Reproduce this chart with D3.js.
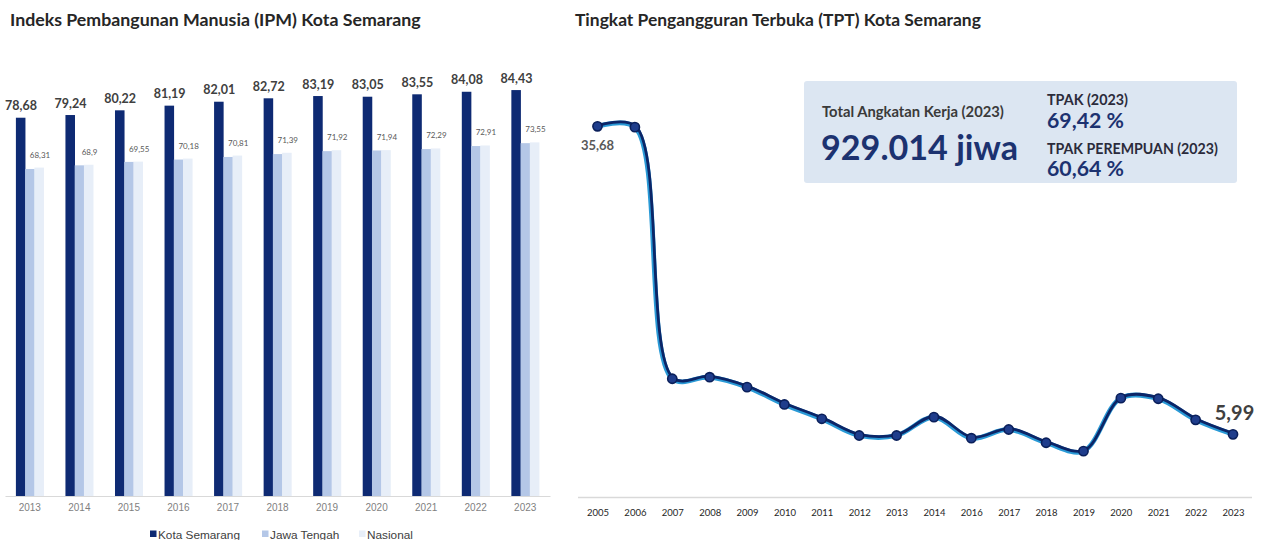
<!DOCTYPE html>
<html>
<head>
<meta charset="utf-8">
<script src="https://cdn.jsdelivr.net/npm/d3@7"></script>
<style>
  html, body { margin: 0; padding: 0; background: #ffffff; }
  svg { display: block; }
</style>
</head>
<body>
<svg id="chart" width="1264" height="540"></svg>
<script>
// ---------- DATA ----------
const ipmYears = ["2013","2014","2015","2016","2017","2018","2019","2020","2021","2022","2023"];
const ipmKota = [78.68, 79.24, 80.22, 81.19, 82.01, 82.72, 83.19, 83.05, 83.55, 84.08, 84.43];
const ipmJateng = [68.02, 68.78, 69.49, 69.98, 70.52, 71.12, 71.73, 71.87, 72.16, 72.79, 73.39];
const ipmNasional = [68.31, 68.9, 69.55, 70.18, 70.81, 71.39, 71.92, 71.94, 72.29, 72.91, 73.55];
const ipmSeries = ["Kota Semarang", "Jawa Tengah", "Nasional"];

const tptYears = ["2005","2006","2007","2008","2009","2010","2011","2012","2013","2014","2016","2017","2018","2019","2020","2021","2022","2023"];
const tptValues = [35.68, 35.6, 11.35, 11.5, 10.54, 8.87, 7.49, 5.88, 5.88, 7.65, 5.62, 6.46, 5.18, 4.37, 9.48, 9.42, 7.39, 5.99];

const titleLeft = "Indeks Pembangunan Manusia (IPM) Kota Semarang";
const titleRight = "Tingkat Pengangguran Terbuka (TPT) Kota Semarang";
const infoLabel = "Total Angkatan Kerja (2023)";
const infoValue = "929.014 jiwa";
const tpakLabel = "TPAK (2023)";
const tpakValue = "69,42 %";
const tpakPLabel = "TPAK PEREMPUAN (2023)";
const tpakPValue = "60,64 %";

// ---------- HELPERS ----------
const fmt = v => String(v).replace(".", ",");
function fit(sel, w) {
  const n = sel.node();
  const cur = n.getComputedTextLength();
  const fs = parseFloat(sel.attr("font-size"));
  sel.attr("font-size", (fs * w / cur).toFixed(2));
  return sel;
}

const svg = d3.select("#chart");
svg.append("rect").attr("width", 1264).attr("height", 540).attr("fill", "#ffffff");

const calibri = "Lato, 'Open Sans', sans-serif";
const arial = "'Liberation Sans', Arial, sans-serif";
const colKota = "#0e2a73", colJateng = "#b4c7e7", colNas = "#e7eef8";

// ---------- LEFT: IPM BAR CHART ----------
const L = svg.append("g");
fit(L.append("text").attr("x", 10).attr("y", 26).attr("font-family", calibri).attr("font-weight", 700)
  .attr("font-size", 15).attr("fill", "#262626").text(titleLeft), 411);

const x0 = d3.scaleBand().domain(ipmYears).range([5, 550]).padding(0);
const x1 = d3.scaleBand().domain(ipmSeries).range([0, x0.bandwidth() * 0.56]).padding(0);
const yL = d3.scaleLinear().domain([0, 90]).range([496, 63.3]);

const rows = ipmYears.map((yr, i) => ({ yr, vals: [ipmKota[i], ipmJateng[i], ipmNasional[i]] }));
const colors = [colKota, colJateng, colNas];
const gOff = (x0.bandwidth() - x1.range()[1]) / 2;

const groups = L.selectAll("g.grp").data(rows).enter().append("g")
  .attr("transform", d => `translate(${x0(d.yr) + gOff},0)`);
groups.selectAll("rect").data(d => d.vals.map((v, j) => ({ v, s: ipmSeries[j], j }))).enter().append("rect")
  .attr("x", d => x1(d.s))
  .attr("y", d => yL(d.v))
  .attr("width", x1.bandwidth() + 0.3)
  .attr("height", d => yL(0) - yL(d.v))
  .attr("fill", d => colors[d.j]);

// value labels
groups.append("text")
  .attr("x", x1(ipmSeries[0]) + x1.bandwidth() / 2 + 0.5)
  .attr("y", d => yL(d.vals[0]) - 7.5)
  .attr("text-anchor", "middle").attr("font-family", calibri).attr("font-weight", 700)
  .attr("font-size", 12.5).attr("fill", "#404040").text(d => fmt(d.vals[0]));
groups.append("text")
  .attr("x", x1(ipmSeries[2]) + x1.bandwidth() / 2 + 1)
  .attr("y", d => yL(d.vals[2]) - 10)
  .attr("text-anchor", "middle").attr("font-family", calibri)
  .attr("font-size", 8).attr("fill", "#595959").text(d => fmt(d.vals[2]));

// axis
const axL = L.append("g").attr("transform", "translate(0,496)")
  .call(d3.axisBottom(x0).tickSize(0).tickPadding(8));
axL.select(".domain").attr("stroke", "#d9d9d9").attr("stroke-width", 1.2);
axL.selectAll("text").attr("font-family", arial).attr("font-size", 10).attr("fill", "#7f7f7f");

// legend
const legX = [150, 262, 359];
const leg = L.selectAll("g.leg").data(ipmSeries).enter().append("g")
  .attr("transform", (d, i) => `translate(${legX[i]},0)`);
leg.append("rect").attr("x", 0).attr("y", 530.5).attr("width", 6.5).attr("height", 6.5)
  .attr("fill", (d, i) => colors[i]);
leg.append("text").attr("x", 8).attr("y", 538.5).attr("font-family", arial).attr("font-size", 11.8)
  .attr("fill", "#404040").text(d => d);

// ---------- RIGHT: TPT LINE CHART ----------
const R = svg.append("g");
fit(R.append("text").attr("x", 575).attr("y", 26).attr("font-family", calibri).attr("font-weight", 700)
  .attr("font-size", 15).attr("fill", "#262626").text(titleRight), 406);

const xR = d3.scalePoint().domain(tptYears).range([597.5, 1233]);
const yR = d3.scaleLinear().domain([0, 40]).range([496.5, 81.5]);

const axR = R.append("g").attr("transform", "translate(0,497)")
  .call(d3.axisBottom(xR).tickSize(0).tickPadding(12));
axR.select(".domain").attr("d", "M578,0.5H1252").attr("stroke", "#d9d9d9").attr("stroke-width", 1.5);
axR.selectAll("text").attr("font-family", calibri).attr("font-size", 9.5).attr("fill", "#262626");

// info box
R.append("rect").attr("x", 804).attr("y", 81).attr("width", 433).attr("height", 102).attr("rx", 3)
  .attr("fill", "#dce6f2");
fit(R.append("text").attr("x", 822).attr("y", 117).attr("font-family", calibri).attr("font-weight", 700)
  .attr("font-size", 13).attr("fill", "#3a3a3a").text(infoLabel), 182);
fit(R.append("text").attr("x", 821).attr("y", 160).attr("font-family", calibri).attr("font-weight", 700)
  .attr("font-size", 36).attr("fill", "#1c3270").text(infoValue), 197);
fit(R.append("text").attr("x", 1047).attr("y", 105).attr("font-family", calibri).attr("font-weight", 700)
  .attr("font-size", 12).attr("fill", "#2b2b3b").text(tpakLabel), 81);
fit(R.append("text").attr("x", 1047).attr("y", 128).attr("font-family", calibri).attr("font-weight", 700)
  .attr("font-size", 22).attr("fill", "#1c3270").text(tpakValue), 77);
fit(R.append("text").attr("x", 1047).attr("y", 154).attr("font-family", calibri).attr("font-weight", 700)
  .attr("font-size", 12).attr("fill", "#2b2b3b").text(tpakPLabel), 171);
fit(R.append("text").attr("x", 1047).attr("y", 175.5).attr("font-family", calibri).attr("font-weight", 700)
  .attr("font-size", 22).attr("fill", "#1c3270").text(tpakPValue), 77);

// line
const pts = tptYears.map((yr, i) => ({ yr, v: tptValues[i] }));
const line = d3.line().x(d => xR(d.yr)).y(d => yR(d.v)).curve(d3.curveCatmullRom.alpha(0.5));
R.append("path").datum(pts).attr("d", line).attr("fill", "none")
  .attr("stroke", "#2a9ad6").attr("stroke-width", 4.8).attr("stroke-linecap", "round");
R.append("path").datum(pts).attr("d", line).attr("fill", "none")
  .attr("transform", "translate(0.8,-0.9)")
  .attr("stroke", "#0c2567").attr("stroke-width", 2.8).attr("stroke-linecap", "round");

R.selectAll("circle.pt").data(pts).enter().append("circle")
  .attr("cx", d => xR(d.yr)).attr("cy", d => yR(d.v)).attr("r", 4.6)
  .attr("fill", "#1f3d8c").attr("stroke", "#0a1f5a").attr("stroke-width", 1.6);

// end labels
const first = pts[0], last = pts[pts.length - 1];
R.append("text").attr("x", xR(first.yr)).attr("y", yR(first.v) + 24)
  .attr("text-anchor", "middle").attr("font-family", calibri).attr("font-weight", 700)
  .attr("font-size", 13).attr("fill", "#595959").text(fmt(first.v));
R.append("text").attr("x", xR(last.yr) + 1.5).attr("y", yR(last.v) - 14)
  .attr("text-anchor", "middle").attr("font-family", calibri).attr("font-weight", 700)
  .attr("font-size", 20).attr("fill", "#404040").text(fmt(last.v));
</script>
</body>
</html>
